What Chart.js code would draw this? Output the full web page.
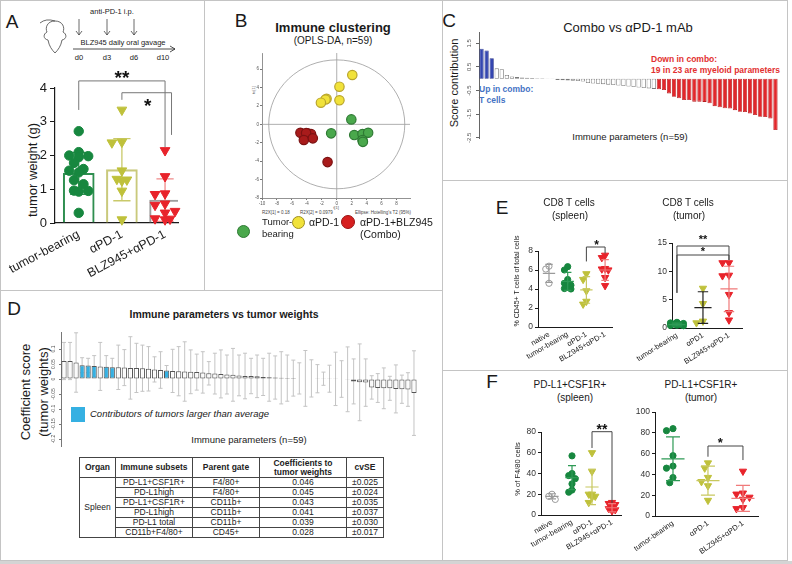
<!DOCTYPE html>
<html><head><meta charset="utf-8">
<script src="https://cdn.jsdelivr.net/npm/chart.js@4.4.1/dist/chart.umd.min.js"></script>
<style>
html,body{margin:0;padding:0;background:#fff;}
#fig{position:relative;width:792px;height:564px;overflow:hidden;background:#fff;font-family:"Liberation Sans",Arial,Helvetica,sans-serif;color:#1a1a1a;}
#fig canvas{position:absolute;}
.t{position:absolute;white-space:nowrap;line-height:1;}
.ln{position:absolute;background:#c4c4c4;}
.sw{position:absolute;border-radius:50%;box-sizing:border-box;}
#tbl{position:absolute;left:79px;top:457px;border-collapse:collapse;font-size:8.5px;color:#222;table-layout:fixed;width:304px;}
#tbl td,#tbl th{border:1px solid #444;padding:0;text-align:center;line-height:9px;height:9px;overflow:hidden;white-space:nowrap;}
#tbl th{height:19px;font-weight:bold;}
</style></head>
<body><div id="fig"></div>
<script>
// ======================= DATA =======================
// Panel A: tumor weight (g)
const aCategories = ['tumor-bearing', 'αPD-1', 'BLZ945+αPD-1'];
const aTumorBearing = [2.72, 2.10, 2.00, 1.98, 1.95, 1.78, 1.60, 1.55, 1.50, 1.27, 1.15, 0.96, 0.95, 0.93, 0.30];
const aAntiPD1 = [3.35, 2.40, 2.38, 1.55, 1.30, 1.28, 1.25, 0.95, 0.10];
const aCombo = [2.15, 1.38, 0.87, 0.85, 0.57, 0.53, 0.35, 0.30, 0.13, 0.10, 0.12];
const aMean = [1.47, 1.58, 0.68];
const aSD = [0.62, 0.92, 0.63];
const aYTicks = [0, 1, 2, 3, 4];

// Panel B: OPLS-DA scores [t1, t2]
const bTumorBearing = [[1.95, 0.54], [-0.75, -0.98], [2.34, -1.16], [3.44, -1.05], [4.2, -0.91], [3.44, -1.7], [3.5, -1.9]];
const bAntiPD1 = [[2.08, 5.36], [0.36, 4.09], [0.36, 2.61], [-1.36, 2.78], [-1.5, 2.7], [-2.12, 2.35]];
const bCombo = [[-4.86, -0.91], [-3.88, -0.98], [-3.44, -1.05], [-4.1, -0.95], [-4.4, -1.7], [-3.2, -1.52], [-1.23, -4.1]];
const bXTicks = [-10, -8, -6, -4, -2, 0, 2, 4, 6, 8];
const bYTicks = [-8, -6, -4, -2, 0, 2, 4, 6];
const bEllipseRadii = [9.1, 7.0];

// Panel C: score contribution, combo vs aPD-1
const cScores = [1.27, 1.20, 0.87,
  0.44, 0.40, 0.16, 0.10, 0.07, 0.05, 0.04, 0.03, 0.025, 0.02, 0.015, 0.01,
  -0.05, -0.06, -0.07, -0.08, -0.10, -0.12, -0.18, -0.20, -0.21, -0.23, -0.25, -0.27, -0.29,
  -0.31, -0.33, -0.35, -0.37, -0.39, -0.41, -0.43,
  -0.45, -0.48, -0.62, -0.76, -0.83, -0.90, -0.90, -0.97, -0.97, -0.98, -1.04, -1.16, -1.21,
  -1.25, -1.26, -1.33, -1.40, -1.41, -1.47, -1.54, -1.61, -1.62, -1.68, -2.17];
const cUpCount = 3;
const cDownCount = 24;
const cYTicks = [-2.5, -2, -1.5, -1, -0.5, 0, 0.5, 1, 1.5];

// Panel D: coefficients to tumor weights with cvSE
const dCoef = [0.060, 0.060, 0.055, 0.046, 0.045, 0.043, 0.042, 0.041, 0.039, 0.039,
  0.038, 0.037, 0.037, 0.036, 0.034, 0.032, 0.030, 0.028, 0.027, 0.026,
  0.025, 0.024, 0.023, 0.022, 0.019, 0.018, 0.017, 0.015, 0.014, 0.012,
  0.010, 0.010, 0.009, 0.007, 0.006, 0.005, 0.004, 0.003, 0.003, 0.002,
  0.002, 0.002, 0.001, 0.001, 0.001, 0.0005, 0.0, -0.001, -0.008, -0.011,
  -0.012, -0.028, -0.030, -0.031, -0.031, -0.033, -0.034, -0.035, -0.047];
const dErr = [0.062, 0.062, 0.099, 0.025, 0.024, 0.035, 0.080, 0.037, 0.030, 0.074,
  0.060, 0.104, 0.082, 0.077, 0.074, 0.042, 0.061, 0.017, 0.072, 0.082,
  0.099, 0.073, 0.060, 0.069, 0.039, 0.068, 0.080, 0.065, 0.088, 0.068,
  0.076, 0.059, 0.071, 0.062, 0.080, 0.072, 0.087, 0.077, 0.060, 0.052,
  0.093, 0.062, 0.047, 0.022, 0.045, 0.089, 0.061, 0.108, 0.075, 0.128,
  0.079, 0.039, 0.048, 0.068, 0.040, 0.080, 0.047, 0.056, 0.141];
const dContributors = [3, 4, 5, 7, 8, 17];
const dYTicks = [-0.2, -0.15, -0.1, -0.05, 0, 0.05, 0.1];
const tSubsets = ['PD-L1+CSF1R+', 'PD-L1high', 'PD-L1+CSF1R+', 'PD-L1high', 'PD-L1 total', 'CD11b+F4/80+'];
const tParents = ['F4/80+', 'F4/80+', 'CD11b+', 'CD11b+', 'CD11b+', 'CD45+'];
const tCoefs = ['0.046', '0.045', '0.043', '0.041', '0.039', '0.028'];
const tCvSE = ['±0.025', '±0.024', '±0.035', '±0.037', '±0.030', '±0.017'];

// Panel E1: CD8 T cells (spleen), % CD45+ T cells of total cells
const e1Categories = ['native', 'tumor-bearing', 'αPD-1', 'BLZ945+αPD-1'];
const e1Native = [6.4, 6.1, 4.6];
const e1TumorBearing = [6.35, 6.0, 5.0, 4.6, 4.4, 4.2, 4.05, 4.0];
const e1AntiPD1 = [5.6, 5.0, 3.8, 2.7, 2.4];
const e1Combo = [7.55, 7.3, 6.15, 6.1, 6.0, 5.2, 4.35];
const e1Mean = [5.65, 4.8, 3.9, 6.0];
const e1SD = [0.95, 0.95, 1.4, 1.1];
const e1YTicks = [0, 2, 4, 6, 8];

// Panel E2: CD8 T cells (tumor)
const e2Categories = ['tumor-bearing', 'αPD1', 'BLZ945+αPD-1'];
const e2TumorBearing = [1.0, 0.9, 0.8, 0.7, 0.6, 0.5, 0.45, 0.4];
const e2AntiPD1 = [7.0, 4.3, 1.2, 0.9];
const e2Combo = [11.5, 11.5, 9.3, 9.2, 5.9, 2.7, 1.4];
const e2Mean = [0.6, 3.6, 6.9];
const e2SD = [0.25, 2.8, 4.0];
const e2YTicks = [0, 5, 10, 15];

// Panel F1: PD-L1+CSF1R+ (spleen), % of F4/80 cells
const f1Categories = ['native', 'tumor-bearing', 'αPD-1', 'BLZ945+αPD-1'];
const f1Native = [20, 18, 15];
const f1TumorBearing = [57, 40, 38, 35, 30, 24, 22];
const f1AntiPD1 = [60, 42, 20, 20, 18, 17, 12];
const f1Combo = [12, 11, 10, 8, 6, 5, 4];
const f1Mean = [18, 36, 27, 7];
const f1SD = [2.5, 11.5, 17, 4];
const f1YTicks = [0, 20, 40, 60, 80];

// Panel F2: PD-L1+CSF1R+ (tumor)
const f2Categories = ['tumor-bearing', 'αPD-1', 'BLZ945+αPD-1'];
const f2TumorBearing = [84, 82, 58, 48, 46, 37, 32];
const f2AntiPD1 = [51, 46, 37, 33, 29, 15];
const f2Combo = [43, 22, 21, 18, 16, 8, 7];
const f2Mean = [55, 34, 17];
const f2SD = [21, 14, 12.5];
const f2YTicks = [0, 20, 40, 60, 80, 100];

// ======================= HELPERS =======================
Chart.defaults.font.family = '"Liberation Sans", Arial, Helvetica, sans-serif';
Chart.defaults.color = '#1a1a1a';
const fig = document.getElementById('fig');
const fmt = v => String(Math.round(v * 1000) / 1000);

function makeCanvas(L, T, W, H) {
  const c = document.createElement('canvas');
  c.width = W; c.height = H;
  c.style.left = L + 'px'; c.style.top = T + 'px';
  c.style.width = W + 'px'; c.style.height = H + 'px';
  fig.appendChild(c);
  return c;
}
function txt(str, x, y, size, o = {}) {
  const d = document.createElement('div');
  d.className = 't'; d.textContent = str;
  d.style.left = x + 'px'; d.style.top = y + 'px'; d.style.fontSize = size + 'px';
  const a = o.align || 'center';
  const tx = a === 'center' ? '-50%' : (a === 'right' ? '-100%' : '0');
  d.style.transform = 'translate(' + tx + ',-50%)' + (o.rot ? ' rotate(' + o.rot + 'deg)' : '');
  if (o.bold) d.style.fontWeight = 'bold';
  if (o.italic) d.style.fontStyle = 'italic';
  if (o.color) d.style.color = o.color;
  fig.appendChild(d);
  return d;
}
function box(x, y, w, h, cls, css) {
  const d = document.createElement('div');
  d.className = cls;
  d.style.left = x + 'px'; d.style.top = y + 'px'; d.style.width = w + 'px'; d.style.height = h + 'px';
  if (css) Object.assign(d.style, css);
  fig.appendChild(d);
  return d;
}
function baseOpts(pad) {
  return {
    responsive: false, animation: false, devicePixelRatio: 1, events: [],
    layout: { padding: pad, autoPadding: false },
    plugins: { legend: { display: false }, tooltip: { enabled: false }, title: { display: false } }
  };
}
// beeswarm-like horizontal spreading of dots around a category centre (limited to maxOff px)
function swarm(vals, cx, diam, xppu, yppu, maxOff) {
  const placed = [];
  const order = vals.map((v, i) => i).sort((a, b) => vals[b] - vals[a]);
  const out = new Array(vals.length);
  const step = diam * 0.5;
  for (const i of order) {
    const py = vals[i] * yppu;
    let best = 0, bestScore = -1;
    for (let k = 0; k < 80; k++) {
      const cand = (k === 0 ? 0 : (k % 2 ? -1 : 1) * Math.ceil(k / 2)) * step;
      if (Math.abs(cand) > maxOff) break;
      const md = placed.length ? Math.min(...placed.map(p => Math.hypot(p.x - cand, p.y - py))) : Infinity;
      if (md >= diam * 0.9) { best = cand; break; }
      if (md > bestScore + 0.5) { bestScore = md; best = cand; }
    }
    placed.push({ x: best, y: py });
    out[i] = { x: cx + best / xppu, y: vals[i] };
  }
  return out;
}
function yAxis(min, max, ticks, width, o = {}) {
  return {
    type: 'linear', position: 'left', min, max,
    afterBuildTicks: s => { s.ticks = ticks.map(v => ({ value: v })); },
    afterFit: s => { s.width = width; s.paddingTop = 0; s.paddingBottom = 0; },
    border: { display: true, color: o.axisColor || '#1a1a1a', width: o.axisWidth || 1 },
    grid: { display: true, drawOnChartArea: false, drawTicks: true, tickLength: o.tickLength || 4, color: o.axisColor || '#1a1a1a' },
    ticks: {
      font: { size: o.fontSize || 9 }, color: o.color || '#1a1a1a', padding: o.padding === undefined ? 2 : o.padding,
      minRotation: o.rot || 0, maxRotation: o.rot || 0, crossAlign: o.rot ? 'center' : 'near',
      callback: v => fmt(v)
    }
  };
}
function xAxisLinear(min, max, labels, height, rot, fontSize, o = {}) {
  return {
    type: 'linear', position: 'bottom', min, max, offset: false,
    afterBuildTicks: s => { s.ticks = labels.map((l, i) => ({ value: i })); },
    afterFit: s => { s.height = height; s.paddingLeft = 0; s.paddingRight = 0; },
    border: { display: true, color: o.axisColor || '#1a1a1a', width: o.axisWidth || 1 },
    grid: { display: true, drawOnChartArea: false, drawTicks: false, offset: false },
    ticks: { autoSkip: false, minRotation: rot, maxRotation: rot, font: { size: fontSize }, color: '#1a1a1a', padding: o.padding || 3,
      callback: (v, i) => labels[i] }
  };
}
function bracketPlugin(items, size, color) {
  return { id: 'brackets', afterDraw(chart) {
    const { ctx, scales: { x, y } } = chart;
    ctx.save();
    ctx.strokeStyle = color; ctx.lineWidth = 1;
    items.forEach(b => {
      const x1 = x.getPixelForValue(b.x1), x2 = x.getPixelForValue(b.x2), yt = y.getPixelForValue(b.y);
      ctx.beginPath();
      ctx.moveTo(x1, y.getPixelForValue(b.y1)); ctx.lineTo(x1, yt); ctx.lineTo(x2, yt); ctx.lineTo(x2, y.getPixelForValue(b.y2));
      ctx.stroke();
      ctx.fillStyle = '#111'; ctx.font = 'bold ' + size + 'px "Liberation Sans", Arial, sans-serif';
      ctx.textAlign = 'center'; ctx.textBaseline = 'alphabetic';
      ctx.fillText(b.text, x.getPixelForValue(b.tx), y.getPixelForValue(b.ty) + size * 0.57);
    });
    ctx.restore();
  } };
}
function meanSdPlugin(means, sds, colors, halfMean, halfCap, lw) {
  return { id: 'meansd', afterDatasetsDraw(chart) {
    const { ctx, scales: { x, y } } = chart;
    ctx.save(); ctx.lineWidth = lw;
    means.forEach((m, i) => {
      const cx = x.getPixelForValue(i);
      const hm = x.getPixelForValue(i + halfMean) - cx, hc = x.getPixelForValue(i + halfCap) - cx;
      const ym = y.getPixelForValue(m), yt = y.getPixelForValue(m + sds[i]), yb = y.getPixelForValue(Math.max(m - sds[i], y.min));
      ctx.strokeStyle = colors[i];
      ctx.beginPath();
      ctx.moveTo(cx - hm, ym); ctx.lineTo(cx + hm, ym);
      ctx.moveTo(cx, yt); ctx.lineTo(cx, yb);
      ctx.moveTo(cx - hc, yt); ctx.lineTo(cx + hc, yt);
      ctx.moveTo(cx - hc, yb); ctx.lineTo(cx + hc, yb);
      ctx.stroke();
    });
    ctx.restore();
  } };
}
const COL = { green: '#17873f', olive: '#bfc13b', red: '#e8232b', gray: '#9a9a9a' };
function pt(kind, r) {
  if (kind === 'open') return { pointStyle: 'circle', pointRadius: r, pointBackgroundColor: 'rgba(255,255,255,0)', pointBorderColor: COL.gray, pointBorderWidth: 1 };
  if (kind === 'green') return { pointStyle: 'circle', pointRadius: r, pointBackgroundColor: COL.green, pointBorderColor: COL.green, pointBorderWidth: 1 };
  if (kind === 'olive') return { pointStyle: 'triangle', pointRotation: 180, pointRadius: r, pointBackgroundColor: COL.olive, pointBorderColor: COL.olive, pointBorderWidth: 1 };
  return { pointStyle: 'triangle', pointRotation: 180, pointRadius: r, pointBackgroundColor: COL.red, pointBorderColor: COL.red, pointBorderWidth: 1 };
}

// ======================= FRAME =======================
box(0, 0, 788, 561, 'ln', { background: 'transparent', border: '1px solid #c4c4c4', boxSizing: 'border-box' });
box(0, 561, 792, 3, 'ln', { background: '#d4d4d4' });
box(204, 0, 1, 290, 'ln');
box(442, 0, 1, 561, 'ln');
box(0, 290, 442, 1, 'ln');
box(442, 180, 346, 1, 'ln');
box(442, 370, 346, 1, 'ln');

// panel letters
txt('A', 12, 21, 19); txt('B', 241, 20, 19); txt('C', 449, 20, 19);
txt('D', 14, 308, 19); txt('E', 502, 207, 19); txt('F', 492, 381, 19);

// ======================= PANEL A =======================
fig.insertAdjacentHTML('beforeend',
  '<svg style="position:absolute;left:0;top:0" width="204" height="70" xmlns="http://www.w3.org/2000/svg">' +
  '<g fill="none" stroke="#444" stroke-width="0.8">' +
  '<path d="M40,23 Q46,18 55,21"/>' +
  '<path d="M55,21 C47,21 45,28 47,32 C43,34 43,39 48,40 C49,46 52,50 55,53 C58,50 61,46 62,40 C67,39 67,34 63,32 C65,28 63,21 55,21 Z"/>' +
  '<path d="M79,19 V35 M76,31 L79,35 L82,31"/>' +
  '<path d="M107,19 V35 M104,31 L107,35 L110,31"/>' +
  '<path d="M134,19 V35 M131,31 L134,35 L137,31"/>' +
  '<path d="M73,49 H175 M170,46 L175,49 L170,52" stroke="#222"/>' +
  '</g></svg>');
txt('anti-PD-1 i.p.', 112, 12, 7.5);
txt('BLZ945 daily oral gavage', 123, 43, 7.5);
txt('d0', 79, 58, 7.5); txt('d3', 107, 58, 7.5); txt('d6', 134, 58, 7.5); txt('d10', 163, 58, 7.5);
txt('tumor weight (g)', 32, 170, 13, { rot: -90 });
(function () {
  const L = 0, T = 60, W = 204, H = 230, al = 55, at = 88, ar = 178, ab = 223;
  const xr = [-0.55, 2.3], yr = [0, 4];
  const xppu = (ar - al) / (xr[1] - xr[0]), yppu = (ab - at) / (yr[1] - yr[0]);
  const c = makeCanvas(L, T, W, H);
  const errColors = ['#2f8f50', '#c9c96a', '#f08a8a'];
  const errPlugin = { id: 'aerr', afterDatasetDraw(chart, args) {
    if (args.index !== 0) return;
    const { ctx, scales: { x, y } } = chart;
    ctx.save(); ctx.lineWidth = 1.3;
    aMean.forEach((m, i) => {
      const cx = x.getPixelForValue(i), hc = x.getPixelForValue(i + 0.2) - cx;
      const yt = y.getPixelForValue(m + aSD[i]), yb = y.getPixelForValue(Math.max(0, m - aSD[i]));
      ctx.strokeStyle = errColors[i];
      ctx.beginPath();
      ctx.moveTo(cx, yt); ctx.lineTo(cx, yb);
      ctx.moveTo(cx - hc, yt); ctx.lineTo(cx + hc, yt);
      ctx.moveTo(cx - hc, yb); ctx.lineTo(cx + hc, yb);
      ctx.stroke();
    });
    ctx.restore();
  } };
  new Chart(c, {
    type: 'bar',
    data: { datasets: [
      { type: 'bar', data: aMean.map((m, i) => ({ x: i, y: m })), backgroundColor: 'rgba(255,255,255,0)',
        borderColor: ['#2f8f50', '#c9c97c', '#9e9e9e'], borderWidth: 1.4, borderSkipped: 'bottom', barThickness: 31, order: 10 },
      Object.assign({ type: 'scatter', data: swarm(aTumorBearing, 0, 9.5, xppu, yppu, 12), clip: false, order: 1 }, pt('green', 4.7)),
      Object.assign({ type: 'scatter', data: swarm(aAntiPD1, 1, 10, xppu, yppu, 12), clip: false, order: 1 }, pt('olive', 5.6)),
      Object.assign({ type: 'scatter', data: swarm(aCombo, 2, 10, xppu, yppu, 12), clip: false, order: 1 }, pt('red', 5.6))
    ] },
    options: Object.assign(baseOpts({ left: 0, top: at - T, right: L + W - ar, bottom: 0 }), {
      scales: {
        x: xAxisLinear(xr[0], xr[1], aCategories, T + H - ab, 28, 12.5, { axisWidth: 1.2, padding: 4 }),
        y: yAxis(yr[0], yr[1], aYTicks, al - L, { fontSize: 13, tickLength: 5, axisWidth: 1.2, padding: 3 })
      }
    }),
    plugins: [errPlugin, bracketPlugin([
      { x1: 0, x2: 2, y: 4.21, y1: 3.35, y2: 2.25, text: '**', tx: 1, ty: 4.45 },
      { x1: 1, x2: 2.15, y: 3.86, y1: 3.65, y2: 2.61, text: '*', tx: 1.6, ty: 3.6 }
    ], 19, '#777')]
  });
})();

// ======================= PANEL B =======================
txt('Immune clustering', 333, 27, 13, { bold: true });
txt('(OPLS-DA, n=59)', 333, 41, 10);
txt('to[1]', 254, 90, 4, { rot: -90, color: '#555' });
txt('t[1]', 336, 208, 4, { color: '#555' });
txt('R2X[1] = 0.18', 262, 213, 4.5, { align: 'left', color: '#444' });
txt('R2X[2] = 0.0979', 300, 213, 4.5, { align: 'left', color: '#444' });
txt("Ellipse: Hotelling's T2 (95%)", 355, 213, 4.5, { align: 'left', color: '#444' });
(function () {
  const L = 240, T = 45, W = 180, H = 175, al = 262, at = 53, ar = 410, ab = 198;
  const c = makeCanvas(L, T, W, H);
  const guides = { id: 'opls', beforeDatasetsDraw(chart) {
    const { ctx, scales: { x, y }, chartArea: a } = chart;
    ctx.save(); ctx.strokeStyle = '#9a9a9a'; ctx.lineWidth = 0.8;
    ctx.beginPath();
    ctx.moveTo(a.left, y.getPixelForValue(0)); ctx.lineTo(a.right, y.getPixelForValue(0));
    ctx.moveTo(x.getPixelForValue(0), a.top); ctx.lineTo(x.getPixelForValue(0), a.bottom);
    ctx.stroke();
    const cx = x.getPixelForValue(0), cy = y.getPixelForValue(0);
    const rx = Math.abs(x.getPixelForValue(bEllipseRadii[0]) - cx), ry = Math.abs(y.getPixelForValue(bEllipseRadii[1]) - cy);
    ctx.beginPath(); ctx.ellipse(cx, cy, rx, ry, 0, 0, Math.PI * 2); ctx.stroke();
    ctx.restore();
  } };
  const mk = (arr, fill, edge) => ({ data: arr.map(p => ({ x: p[0], y: p[1] })), clip: false,
    pointStyle: 'circle', pointRadius: 4.7, pointBackgroundColor: fill, pointBorderColor: edge, pointBorderWidth: 1.2 });
  const tickAxis = (min, max, ticks, isX, size) => ({
    type: 'linear', position: isX ? 'bottom' : 'left', min, max, offset: false,
    afterBuildTicks: s => { s.ticks = ticks.map(v => ({ value: v })); },
    afterFit: s => { if (isX) { s.height = size; } else { s.width = size; } s.paddingTop = s.paddingBottom = s.paddingLeft = s.paddingRight = 0; },
    border: { display: true, color: '#777', width: 0.8 },
    grid: { display: true, drawOnChartArea: false, drawTicks: true, tickLength: 2, color: '#777' },
    ticks: { autoSkip: false, maxRotation: 0, minRotation: 0, font: { size: 4.5 }, color: '#555', padding: 1, callback: v => fmt(v) }
  });
  new Chart(c, {
    type: 'scatter',
    data: { datasets: [
      mk(bAntiPD1, '#f1e23a', '#b9a52c'),
      mk(bTumorBearing, '#4aa84c', '#2f7a34'),
      mk(bCombo, '#a81b1b', '#7c1212')
    ] },
    options: Object.assign(baseOpts({ left: 0, top: at - T, right: L + W - ar, bottom: 0 }), {
      scales: { x: tickAxis(-10, 9.8, bXTicks, true, T + H - ab), y: tickAxis(-8, 7.75, bYTicks, false, al - L) }
    }),
    plugins: [guides]
  });
})();
box(237, 225, 13, 13, 'sw', { background: '#4aa84c', border: '1.3px solid #2f7a34' });
txt('Tumor-', 262, 222, 9.5, { align: 'left' });
txt('bearing', 262, 234, 9.5, { align: 'left' });
box(292, 215.5, 13, 13, 'sw', { background: '#f1e23a', border: '1.3px solid #9e8e20' });
txt('αPD-1', 309, 222, 10.5, { align: 'left' });
box(341, 215, 14, 14, 'sw', { background: '#d61f1f', border: '1.3px solid #9a1212' });
txt('αPD-1+BLZ945', 360, 222, 10.5, { align: 'left' });
txt('(Combo)', 360, 234, 10.5, { align: 'left' });

// ======================= PANEL C =======================
txt('Combo vs αPD-1 mAb', 628, 27, 13);
txt('Score contribution', 454, 83, 11, { rot: -90 });
txt('Up in combo:', 479, 89, 8.5, { align: 'left', bold: true, color: '#4472c4' });
txt('T cells', 479, 100, 8.5, { align: 'left', bold: true, color: '#4472c4' });
txt('Down in combo:', 651, 59, 8.5, { align: 'left', bold: true, color: '#e23030' });
txt('19 in 23 are myeloid   parameters', 651, 70, 8.5, { align: 'left', bold: true, color: '#e23030' });
txt('Immune parameters (n=59)', 630, 137, 9.5);
(function () {
  const L = 445, T = 25, W = 340, H = 118, al = 479, at = 32, ar = 778, ab = 138;
  const c = makeCanvas(L, T, W, H);
  const n = cScores.length;
  const kind = i => i < cUpCount ? 0 : (i >= n - cDownCount ? 2 : 1);
  new Chart(c, {
    type: 'bar',
    data: { labels: cScores.map((v, i) => i + 1), datasets: [{
      data: cScores,
      backgroundColor: cScores.map((v, i) => ['#3446b0', '#ffffff', '#e2262a'][kind(i)]),
      borderColor: cScores.map((v, i) => ['#27338a', '#7a7a7a', '#b51c1f'][kind(i)]),
      borderWidth: 0.8, borderSkipped: false, barPercentage: 0.84, categoryPercentage: 1
    }] },
    options: Object.assign(baseOpts({ left: 0, top: at - T, right: L + W - ar, bottom: T + H - ab }), {
      scales: {
        x: { type: 'category', display: false, offset: true },
        y: yAxis(-2.51, 1.98, cYTicks, al - L, { fontSize: 6, color: '#555', axisColor: '#666', tickLength: 3, padding: 1, rot: 90 })
      }
    })
  });
})();

// ======================= PANEL D =======================
txt('Immune parameters vs tumor weights', 224, 314, 10.5, { bold: true });
txt('Coefficient score', 25, 392, 13, { rot: -90 });
txt('(tumor weights)', 43, 392, 13, { rot: -90 });
box(71, 407, 14, 15, 'ln', { background: '#35b0e2' });
txt('Contributors of tumors larger than average', 90, 414, 9.5, { align: 'left', italic: true });
txt('Immune parameters (n=59)', 249, 440, 9.5);
(function () {
  const L = 0, T = 322, W = 430, H = 128, al = 61, at = 332, ar = 417, ab = 446;
  const c = makeCanvas(L, T, W, H);
  const errPlugin = { id: 'derr', beforeDatasetsDraw(chart) {
    const { ctx, scales: { x, y } } = chart;
    ctx.save(); ctx.strokeStyle = '#c4c4c4'; ctx.lineWidth = 1;
    dCoef.forEach((v, i) => {
      const cx = x.getPixelForValue(i), yt = y.getPixelForValue(v + dErr[i]), yb = y.getPixelForValue(v - dErr[i]);
      ctx.beginPath();
      ctx.moveTo(cx, yt); ctx.lineTo(cx, yb);
      ctx.moveTo(cx - 2, yt); ctx.lineTo(cx + 2, yt);
      ctx.moveTo(cx - 2, yb); ctx.lineTo(cx + 2, yb);
      ctx.stroke();
    });
    ctx.restore();
  } };
  new Chart(c, {
    type: 'bar',
    data: { labels: dCoef.map((v, i) => i + 1), datasets: [{
      data: dCoef,
      backgroundColor: dCoef.map((v, i) => dContributors.includes(i) ? '#35b0e2' : 'rgba(255,255,255,0.85)'),
      borderColor: '#555', borderWidth: 1, borderSkipped: false, barPercentage: 0.86, categoryPercentage: 1
    }] },
    options: Object.assign(baseOpts({ left: 0, top: at - T, right: L + W - ar, bottom: T + H - ab }), {
      scales: {
        x: { type: 'category', display: false, offset: true },
        y: yAxis(-0.2233, 0.1567, dYTicks, al - L, { fontSize: 5, color: '#555', axisColor: '#777', tickLength: 2, padding: 0, rot: 90 })
      }
    }),
    plugins: [errPlugin]
  });
})();
(function () {
  let h = '<table id="tbl"><colgroup><col style="width:36px"><col style="width:77px"><col style="width:67px"><col style="width:87px"><col style="width:37px"></colgroup>';
  h += '<tr><th>Organ</th><th>Immune subsets</th><th>Parent gate</th><th>Coefficients to<br>tumor weights</th><th>cvSE</th></tr>';
  tSubsets.forEach((s, i) => {
    h += '<tr>' + (i === 0 ? '<td rowspan="' + tSubsets.length + '">Spleen</td>' : '') +
      '<td>' + s + '</td><td>' + tParents[i] + '</td><td>' + tCoefs[i] + '</td><td>' + tCvSE[i] + '</td></tr>';
  });
  h += '</table>';
  fig.insertAdjacentHTML('beforeend', h);
})();

// ======================= PANELS E & F =======================
function dotChart(o) {
  const [L, T, W, H] = o.box, [al, at, ar, ab] = o.area;
  const c = makeCanvas(L, T, W, H);
  const xppu = (ar - al) / (o.xr[1] - o.xr[0]), yppu = (ab - at) / (o.yr[1] - o.yr[0]);
  const maxOff = Math.min(0.3 * xppu, 8);
  const datasets = o.groups.map((g, i) => Object.assign({ data: swarm(g.vals, i, o.diam, xppu, yppu, maxOff), clip: false },
    pt(g.kind, g.kind === 'open' || g.kind === 'green' ? 3.1 : 4.2)));
  new Chart(c, {
    type: 'scatter',
    data: { datasets },
    options: Object.assign(baseOpts({ left: 0, top: at - T, right: L + W - ar, bottom: 0 }), {
      scales: {
        x: xAxisLinear(o.xr[0], o.xr[1], o.labels, T + H - ab, o.rot, 7.5, { padding: 3 }),
        y: yAxis(o.yr[0], o.yr[1], o.yTicks, al - L, { fontSize: 8.5, tickLength: 3, padding: 2, color: '#333' })
      }
    }),
    plugins: [meanSdPlugin(o.means, o.sds, o.lineColors, 0.33, 0.2, 1.2), bracketPlugin(o.brackets, o.starSize, '#444')]
  });
}
txt('CD8 T cells', 569, 203, 10); txt('(spleen)', 570, 216, 10);
txt('CD8 T cells', 688, 203, 10); txt('(tumor)', 689, 216, 10);
txt('PD-L1+CSF1R+', 570, 385, 10); txt('(spleen)', 575, 398, 10);
txt('PD-L1+CSF1R+', 701, 385, 10); txt('(tumor)', 701, 398, 10);
txt('% CD45+ T cells of total cells', 516, 281, 7, { rot: -90 });
txt('% of F4/80 cells', 518, 469, 7.5, { rot: -90 });

dotChart({ box: [505, 240, 115, 125], area: [538, 251, 612, 327], xr: [-0.588, 3.37], yr: [0, 8], yTicks: e1YTicks,
  labels: e1Categories, rot: 30, diam: 6.5,
  groups: [{ vals: e1Native, kind: 'open' }, { vals: e1TumorBearing, kind: 'green' }, { vals: e1AntiPD1, kind: 'olive' }, { vals: e1Combo, kind: 'red' }],
  means: e1Mean, sds: e1SD, lineColors: ['#9a9a9a', '#2e9a55', '#c8c860', '#f07a7a'],
  brackets: [{ x1: 2, x2: 3, y: 8.42, y1: 6.9, y2: 7.75, text: '*', tx: 2.55, ty: 8.95 }], starSize: 12 });

dotChart({ box: [630, 232, 120, 133], area: [672, 243, 742, 328], xr: [-0.19, 2.5], yr: [0, 15], yTicks: e2YTicks,
  labels: e2Categories, rot: 32, diam: 6.5,
  groups: [{ vals: e2TumorBearing, kind: 'green' }, { vals: e2AntiPD1, kind: 'olive' }, { vals: e2Combo, kind: 'red' }],
  means: e2Mean, sds: e2SD, lineColors: ['#2e9a55', '#222222', '#f07a7a'],
  brackets: [{ x1: 0, x2: 2, y: 14.47, y1: 6.2, y2: 12.0, text: '**', tx: 1, ty: 16.1 },
             { x1: 0, x2: 2, y: 12.88, y1: 6.2, y2: 12.0, text: '*', tx: 1, ty: 14.06 }], starSize: 11 });

dotChart({ box: [505, 420, 122, 140], area: [541, 432, 621, 515], xr: [-0.55, 3.45], yr: [0, 80], yTicks: f1YTicks,
  labels: f1Categories, rot: 30, diam: 6.5,
  groups: [{ vals: f1Native, kind: 'open' }, { vals: f1TumorBearing, kind: 'green' }, { vals: f1AntiPD1, kind: 'olive' }, { vals: f1Combo, kind: 'red' }],
  means: f1Mean, sds: f1SD, lineColors: ['#9a9a9a', '#2e9a55', '#c8c860', '#f07a7a'],
  brackets: [{ x1: 2, x2: 3, y: 80.3, y1: 64.6, y2: 11.6, text: '**', tx: 2.5, ty: 85.8 }], starSize: 14 });

dotChart({ box: [625, 400, 140, 160], area: [655, 412, 758, 516], xr: [-0.514, 2.43], yr: [0, 100], yTicks: f2YTicks,
  labels: f2Categories, rot: 35, diam: 6.5,
  groups: [{ vals: f2TumorBearing, kind: 'green' }, { vals: f2AntiPD1, kind: 'olive' }, { vals: f2Combo, kind: 'red' }],
  means: f2Mean, sds: f2SD, lineColors: ['#2e9a55', '#c8c860', '#f07a7a'],
  brackets: [{ x1: 1, x2: 2, y: 67.3, y1: 57, y2: 53.8, text: '*', tx: 1.35, ty: 73.7 }], starSize: 13 });
</script></body></html>
